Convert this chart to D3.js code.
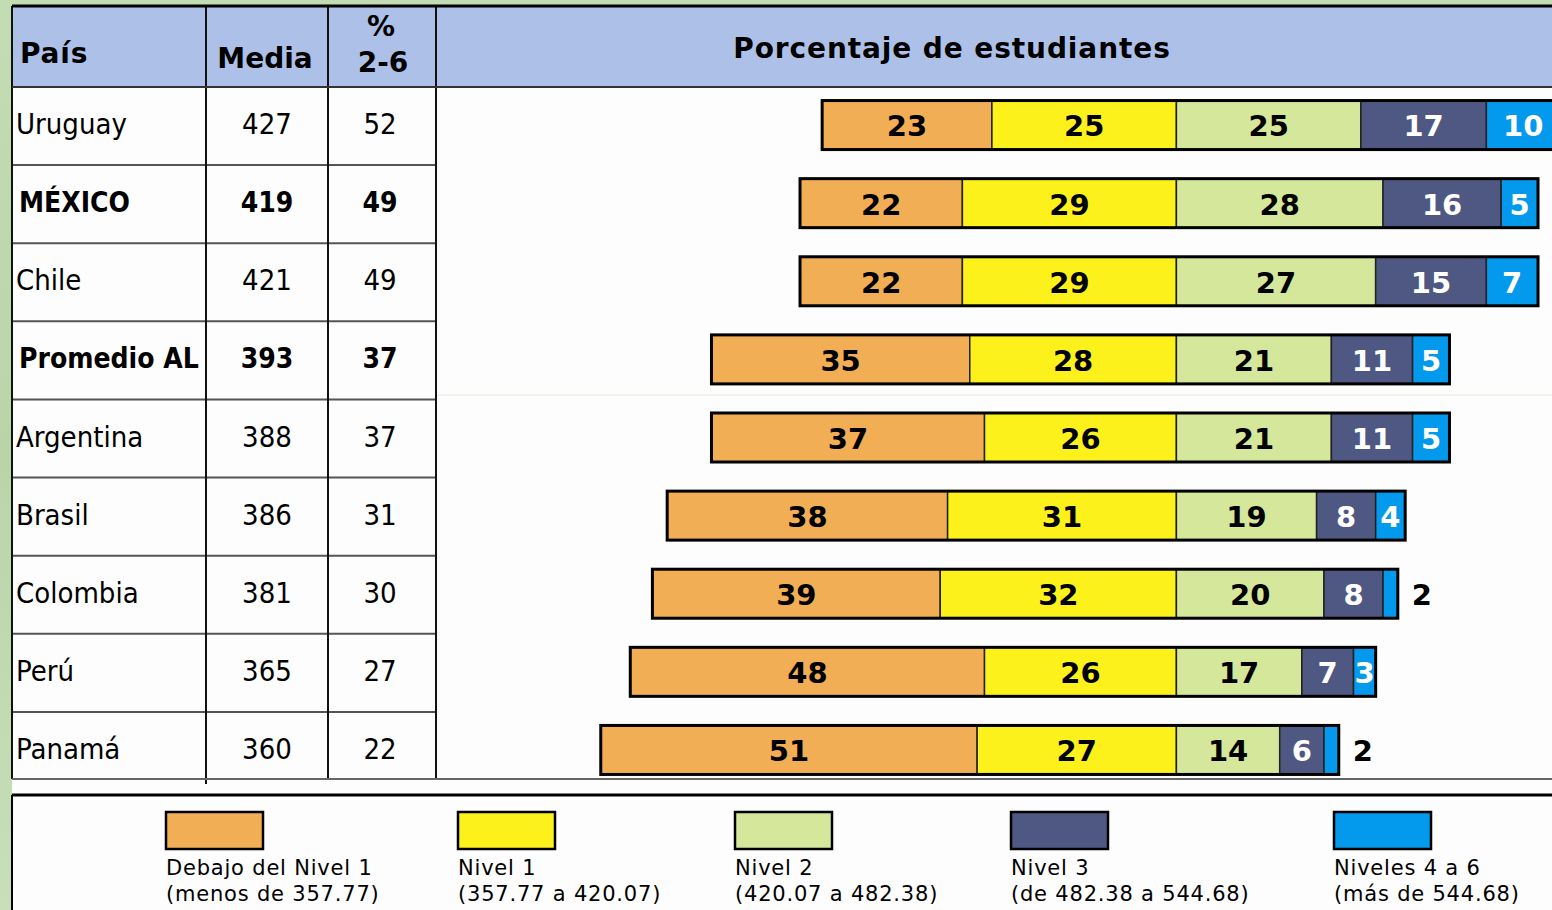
<!DOCTYPE html>
<html>
<head>
<meta charset="utf-8">
<script src="https://cdn.jsdelivr.net/npm/d3@7"></script>
<style>
  html, body { margin: 0; padding: 0; }
  body { width: 1552px; height: 910px; overflow: hidden;
    background: linear-gradient(180deg, #c4dcb4 0%, #b9d5a8 50%, #c8dfba 100%); }
  svg { display: block; }
</style>
</head>
<body>
<svg id="chart"></svg>
<script>
  // table columns
  const countries = ["Uruguay", "MÉXICO", "Chile", "Promedio AL", "Argentina", "Brasil", "Colombia", "Perú", "Panamá"];
  const boldRows = ["MÉXICO", "Promedio AL"];
  const media = [427, 419, 421, 393, 388, 386, 381, 365, 360];
  const pct26 = [52, 49, 49, 37, 37, 31, 30, 27, 22];

  // percentage of students by level
  const debajo = [23, 22, 22, 35, 37, 38, 39, 48, 51];
  const nivel1 = [25, 29, 29, 28, 26, 31, 32, 26, 27];
  const nivel2 = [25, 28, 27, 21, 21, 19, 20, 17, 14];
  const nivel3 = [17, 16, 15, 11, 11, 8, 8, 7, 6];
  const nivel46 = [10, 5, 7, 5, 5, 4, 2, 3, 2];

  const levelNames = ["Debajo del Nivel 1", "Nivel 1", "Nivel 2", "Nivel 3", "Niveles 4 a 6"];
  const levelRanges = ["(menos de 357.77)", "(357.77 a 420.07)", "(420.07 a 482.38)", "(de 482.38 a 544.68)", "(más de 544.68)"];
  const colors = ["#f2ae55", "#fdf11c", "#d4e79b", "#4f5882", "#0399ec"];
  const labelColors = ["#000", "#000", "#000", "#fff", "#fff"];

  const W = 1552, H = 910;
  const svg = d3.select("#chart").attr("width", W).attr("height", H);

  const L = 12, topY = 6, headBot = 87, tableBot = 779;

  // white panels
  svg.append("rect").attr("x", L).attr("y", topY).attr("width", W - L).attr("height", H - topY).attr("fill", "#fdfdfd");
  svg.append("rect").attr("x", L).attr("y", topY).attr("width", W - L).attr("height", headBot - topY).attr("fill", "#adc0e8");

  const y = d3.scaleBand().domain(countries).range([headBot, 790]);
  // diverging scale: 0 = border between Nivel 1 and Nivel 2
  const x = d3.scaleLinear().domain([-80, 50]).range([586, 1545.4]);

  const cols = [L, 206, 328, 436];

  // faint separator across the chart area
  svg.append("line").attr("x1", 436).attr("x2", W).attr("y1", 395).attr("y2", 395)
    .attr("stroke", "#e3eedb").attr("stroke-width", 1);

  // row lines in the table part
  svg.append("g").selectAll("line").data(countries.slice(1)).join("line")
    .attr("x1", L).attr("x2", 436)
    .attr("y1", d => y(d)).attr("y2", d => y(d))
    .attr("stroke", "#555").attr("stroke-width", 2);

  // column lines
  svg.append("g").selectAll("line").data(cols).join("line")
    .attr("x1", d => d).attr("x2", d => d)
    .attr("y1", topY).attr("y2", (d, i) => i === 1 ? 784 : tableBot)
    .attr("stroke", "#111").attr("stroke-width", 2);

  // header borders
  svg.append("line").attr("x1", L).attr("x2", W).attr("y1", topY).attr("y2", topY).attr("stroke", "#000").attr("stroke-width", 3);
  svg.append("line").attr("x1", L).attr("x2", W).attr("y1", headBot).attr("y2", headBot).attr("stroke", "#333").attr("stroke-width", 2);
  svg.append("line").attr("x1", L).attr("x2", W).attr("y1", tableBot).attr("y2", tableBot).attr("stroke", "#666").attr("stroke-width", 2);
  svg.append("line").attr("x1", L).attr("x2", W).attr("y1", 795).attr("y2", 795).attr("stroke", "#000").attr("stroke-width", 3);
  svg.append("line").attr("x1", L).attr("x2", L).attr("y1", 795).attr("y2", H).attr("stroke", "#000").attr("stroke-width", 2);

  // header texts
  const headFont = "'DejaVu Sans', Verdana, sans-serif";
  const head = svg.append("g").attr("font-family", headFont).attr("font-weight", "bold").attr("font-size", 28).attr("fill", "#000");
  head.append("text").attr("x", 20).attr("y", 63).attr("letter-spacing", 0.8).text("País");
  head.append("text").attr("x", 265).attr("y", 68).attr("text-anchor", "middle").text("Media");
  head.append("text").attr("x", 381).attr("y", 36).attr("text-anchor", "middle").text("%");
  head.append("text").attr("x", 383).attr("y", 72).attr("text-anchor", "middle").text("2-6");
  head.append("text").attr("x", 952).attr("y", 58).attr("text-anchor", "middle").attr("font-size", 28)
    .attr("letter-spacing", 0.9).text("Porcentaje de estudiantes");

  // table body
  const bodyFont = "'DejaVu Sans Condensed', 'DejaVu Sans', sans-serif";
  const rows = svg.append("g").attr("font-family", bodyFont).attr("fill", "#000")
    .attr("font-stretch", "condensed");
  countries.forEach((c, i) => {
    const cy = y(c) + y.bandwidth() / 2 - 2;
    const b = boldRows.includes(c);
    const g = rows.append("g").attr("font-weight", b ? "bold" : "normal").attr("font-size", b ? 28 : 29);
    g.append("text").attr("x", b ? 19 : 16).attr("y", cy).attr("dy", "0.35em").text(c);
    g.append("text").attr("x", 267).attr("y", cy).attr("dy", "0.35em").attr("text-anchor", "middle").text(media[i]);
    g.append("text").attr("x", 380).attr("y", cy).attr("dy", "0.35em").attr("text-anchor", "middle").text(pct26[i]);
  });

  // stacked bars
  const series = [debajo, nivel1, nivel2, nivel3, nivel46];
  const barH = 49;
  const bars = svg.append("g");
  countries.forEach((c, i) => {
    const start = -(debajo[i] + nivel1[i]);
    const cy = y(c) + y.bandwidth() / 2 - 1;
    let acc = start;
    const segs = series.map((s, k) => {
      const seg = { k: k, v: s[i], x0: acc, x1: acc + s[i] };
      acc += s[i];
      return seg;
    });
    const g = bars.append("g");
    g.selectAll("rect").data(segs).join("rect")
      .attr("x", d => x(d.x0)).attr("width", d => x(d.x1) - x(d.x0))
      .attr("y", cy - barH / 2).attr("height", barH)
      .attr("fill", d => colors[d.k])
      .attr("stroke", "#222").attr("stroke-width", 1.5);
    g.append("rect")
      .attr("x", x(start)).attr("width", x(acc) - x(start))
      .attr("y", cy - barH / 2).attr("height", barH)
      .attr("fill", "none").attr("stroke", "#000").attr("stroke-width", 3);
    g.selectAll("text").data(segs).join("text")
      .attr("font-family", headFont).attr("font-weight", "bold").attr("font-size", 29)
      .attr("x", d => d.v <= 2 ? x(d.x1) + 14 : (x(d.x0) + x(d.x1)) / 2)
      .attr("text-anchor", d => d.v <= 2 ? "start" : "middle")
      .attr("y", cy + 1).attr("dy", "0.36em")
      .attr("fill", d => d.v <= 2 ? "#000" : labelColors[d.k])
      .text(d => d.v);
  });

  // legend
  const legX = [166, 458, 735, 1011, 1334];
  const leg = svg.append("g").attr("font-family", headFont).attr("font-size", 21).attr("fill", "#000")
    .attr("letter-spacing", 0.8);
  levelNames.forEach((n, k) => {
    leg.append("rect").attr("x", legX[k]).attr("y", 812).attr("width", 97).attr("height", 37)
      .attr("fill", colors[k]).attr("stroke", "#000").attr("stroke-width", 2.5);
    leg.append("text").attr("x", legX[k]).attr("y", 875).text(n);
    leg.append("text").attr("x", legX[k]).attr("y", 901).text(levelRanges[k]);
  });
</script>
</body>
</html>
